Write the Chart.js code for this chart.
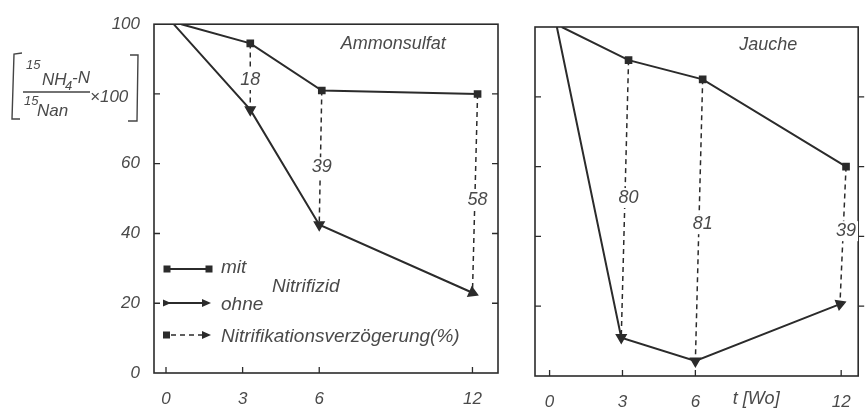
<!DOCTYPE html>
<html>
<head>
<meta charset="utf-8">
<script src="https://cdn.jsdelivr.net/npm/chart.js@4.4.1/dist/chart.umd.min.js"></script>
<style>
  body { margin: 0; background: #fff; }
  #wrap { position: relative; width: 867px; height: 414px; overflow: hidden; }
  .panel { position: absolute; top: 0; }
</style>
</head>
<body>
<div id="wrap">
  <div class="panel" style="left:0"><canvas id="left" width="505" height="414"></canvas></div>
  <div class="panel" style="left:505px"><canvas id="right" width="362" height="414"></canvas></div>
</div>
<script>
// Wochen (t) und Anteil 15NH4-N in % von 15Nan
var xTicks = [0, 3, 6, 12];
var yTicks = [0, 20, 40, 60, 80, 100];

// Ammonsulfat
var amMitX = [0.6, 3.3, 6.1, 12.2];
var amMitY = [100, 94.5, 81, 80];
var amOhneX = [0.3, 3.3, 6.0, 12.0];
var amOhneY = [100, 75.5, 42.5, 23];
var amDelay = [18, 39, 58];
var amDelayAt = [84, 59, 49.5];

// Jauche
var jaMitX = [0.5, 3.25, 6.3, 12.2];
var jaMitY = [100, 90.5, 85, 60];
var jaOhneX = [0.3, 2.95, 6.0, 11.95];
var jaOhneY = [100, 11, 4.3, 20.6];
var jaDelay = [80, 81, 39];
var jaDelayAt = [51, 43.5, 41.5];

var INK = '#2b2b2b';
var TXT = '#4a4a4a';
var FONT = 'Liberation Sans';

function pts(xs, ys) {
    return xs.map(function (x, i) { return { x: x, y: ys[i] }; });
}

function arrowHead(ctx, x, y, ang, size) {
    ctx.save();
    ctx.translate(x, y);
    ctx.rotate(ang);
    ctx.beginPath();
    ctx.moveTo(0, 0);
    ctx.lineTo(-size, -size * 0.45);
    ctx.lineTo(-size, size * 0.45);
    ctx.closePath();
    ctx.fill();
    ctx.restore();
}

function buildDatasets(mx, my, ox, oy, ohneRot) {
    var sets = [
        {
            label: 'mit', data: pts(mx, my), borderColor: INK, backgroundColor: INK,
            borderWidth: 2, pointStyle: 'rect', pointRadius: [0, 4, 4, 4], tension: 0
        },
        {
            label: 'ohne', data: pts(ox, oy), borderColor: INK, backgroundColor: INK,
            borderWidth: 2, pointStyle: 'triangle', pointRadius: [0, 5, 5, 5],
            pointRotation: ohneRot, tension: 0
        }
    ];
    for (var i = 1; i < mx.length; i++) {
        sets.push({
            label: 'delay', data: [{ x: mx[i], y: my[i] }, { x: ox[i], y: oy[i] }],
            borderColor: INK, borderWidth: 1.5, borderDash: [5, 4], pointRadius: 0, tension: 0
        });
    }
    return sets;
}

// frame, inward ticks, texts on delay lines, panel title
function panelPlugin(title, titleAt, delays, delayAt, mx, outerRightTicks, extra) {
    return {
        id: 'panel',
        afterDatasetsDraw: function (chart) {
            var ctx = chart.ctx, a = chart.chartArea;
            var xs = chart.scales.x, ys = chart.scales.y;
            ctx.save();
            ctx.strokeStyle = INK;
            ctx.lineWidth = 1.6;
            ctx.strokeRect(a.left, a.top, a.right - a.left, a.bottom - a.top);
            ctx.lineWidth = 1.3;
            ctx.beginPath();
            yTicks.forEach(function (v) {
                if (v === 0 || v === 100) return;
                var py = ys.getPixelForValue(v);
                ctx.moveTo(a.left, py); ctx.lineTo(a.left + 6, py);
                if (outerRightTicks) { ctx.moveTo(a.right, py); ctx.lineTo(a.right + 6, py); }
                else { ctx.moveTo(a.right, py); ctx.lineTo(a.right - 6, py); }
            });
            xTicks.forEach(function (v) {
                var px = xs.getPixelForValue(v);
                ctx.moveTo(px, a.bottom); ctx.lineTo(px, a.bottom - 6);
            });
            ctx.stroke();

            ctx.font = 'italic 18px "' + FONT + '"';
            ctx.textAlign = 'center';
            ctx.textBaseline = 'middle';
            delays.forEach(function (d, i) {
                var px = xs.getPixelForValue(mx[i + 1]);
                var py = ys.getPixelForValue(delayAt[i]);
                var w = ctx.measureText(String(d)).width + 4;
                ctx.fillStyle = '#fff';
                ctx.fillRect(px - w / 2, py - 10, w, 20);
                ctx.fillStyle = TXT;
                ctx.fillText(String(d), px, py);
            });
            ctx.fillStyle = TXT;
            ctx.fillText(title, xs.getPixelForValue(titleAt[0]), ys.getPixelForValue(titleAt[1]));
            if (extra) extra(chart);
            ctx.restore();
        }
    };
}

function legendAndTitle(chart) {
    var ctx = chart.ctx;
    ctx.save();
    ctx.fillStyle = INK;
    ctx.strokeStyle = INK;
    ctx.lineWidth = 2;
    // mit
    ctx.beginPath(); ctx.moveTo(167, 269); ctx.lineTo(209, 269); ctx.stroke();
    ctx.fillRect(163.5, 265.5, 7, 7);
    ctx.fillRect(205.5, 265.5, 7, 7);
    // ohne
    ctx.beginPath(); ctx.moveTo(165, 303); ctx.lineTo(206, 303); ctx.stroke();
    arrowHead(ctx, 171, 303, 0, 8);
    arrowHead(ctx, 211, 303, 0, 9);
    // Verzoegerung
    ctx.fillRect(163, 331.5, 7, 7);
    ctx.lineWidth = 1.5;
    ctx.setLineDash([5, 4]);
    ctx.beginPath(); ctx.moveTo(171, 335); ctx.lineTo(204, 335); ctx.stroke();
    ctx.setLineDash([]);
    arrowHead(ctx, 211, 335, 0, 9);

    ctx.fillStyle = TXT;
    ctx.font = 'italic 19px "' + FONT + '"';
    ctx.textAlign = 'left';
    ctx.textBaseline = 'middle';
    ctx.fillText('mit', 221, 268);
    ctx.fillText('ohne', 221, 305);
    ctx.fillText('Nitrifikationsverzögerung(%)', 221, 337);
    ctx.fillText('Nitrifizid', 272, 287);

    // y-axis title
    ctx.strokeStyle = '#444';
    ctx.lineWidth = 1.4;
    ctx.beginPath();
    ctx.moveTo(22, 53); ctx.lineTo(14, 54); ctx.lineTo(12, 119); ctx.lineTo(20, 119);
    ctx.moveTo(130, 55); ctx.lineTo(138, 55); ctx.lineTo(137, 121); ctx.lineTo(128, 121);
    ctx.moveTo(23, 92); ctx.lineTo(90, 92);
    ctx.stroke();
    ctx.font = 'italic 13px "' + FONT + '"';
    ctx.fillText('15', 26, 65);
    ctx.fillText('15', 24, 101);
    ctx.font = 'italic 17px "' + FONT + '"';
    ctx.fillText('NH', 42, 80);
    ctx.fillText('-N', 72, 78);
    ctx.fillText('Nan', 37, 111);
    ctx.fillText('×100', 90, 97);
    ctx.font = 'italic 13px "' + FONT + '"';
    ctx.fillText('4', 65, 86);
    ctx.restore();
}

function tStyle(size) {
    return { family: FONT, style: 'italic', size: size };
}

function makeChart(id, sets, opts, plugin) {
    return new Chart(document.getElementById(id), {
        type: 'line',
        data: { datasets: sets },
        options: {
            responsive: false,
            animation: false,
            layout: { padding: opts.padding },
            plugins: { legend: { display: false }, tooltip: { enabled: false } },
            scales: {
                x: {
                    type: 'linear', min: opts.xMin, max: opts.xMax,
                    grid: { display: false, drawTicks: false }, border: { display: false },
                    afterBuildTicks: function (s) { s.ticks = xTicks.map(function (v) { return { value: v }; }); },
                    afterFit: function (s) { s.height = opts.xHeight; },
                    ticks: { padding: 16, color: TXT, font: tStyle(17), maxRotation: 0, autoSkip: false }
                },
                y: {
                    type: 'linear', min: 0, max: 100, display: opts.yLabels,
                    grid: { display: false, drawTicks: false }, border: { display: false },
                    afterBuildTicks: function (s) { s.ticks = yTicks.map(function (v) { return { value: v }; }); },
                    afterFit: function (s) { s.width = opts.yWidth; },
                    ticks: {
                        padding: 14, color: TXT, font: tStyle(17),
                        callback: function (v) { return v === 80 ? '' : v; }
                    }
                }
            }
        },
        plugins: [plugin]
    });
}

makeChart('left',
    buildDatasets(amMitX, amMitY, amOhneX, amOhneY, [0, 180, 180, 114]),
    { padding: { top: 23, right: 6, left: 0, bottom: 0 }, xMin: -0.47, xMax: 13.0, xHeight: 41, yWidth: 154, yLabels: true },
    panelPlugin('Ammonsulfat', [8.9, 94.3], amDelay, amDelayAt, amMitX, false, legendAndTitle));

makeChart('right',
    buildDatasets(jaMitX, jaMitY, jaOhneX, jaOhneY, [0, 180, 180, 69]),
    { padding: { top: 27, right: 4, left: 30, bottom: 0 }, xMin: -0.6, xMax: 12.7, xHeight: 38, yWidth: 0, yLabels: false },
    panelPlugin('Jauche', [9.0, 94.8], jaDelay, jaDelayAt, jaMitX, true, function (chart) {
        var ctx = chart.ctx;
        ctx.fillStyle = TXT;
        ctx.font = 'italic 18px "' + FONT + '"';
        ctx.textAlign = 'center';
        ctx.fillText('t [Wo]', chart.scales.x.getPixelForValue(8.5), 399);
    }));
</script>
</body>
</html>
